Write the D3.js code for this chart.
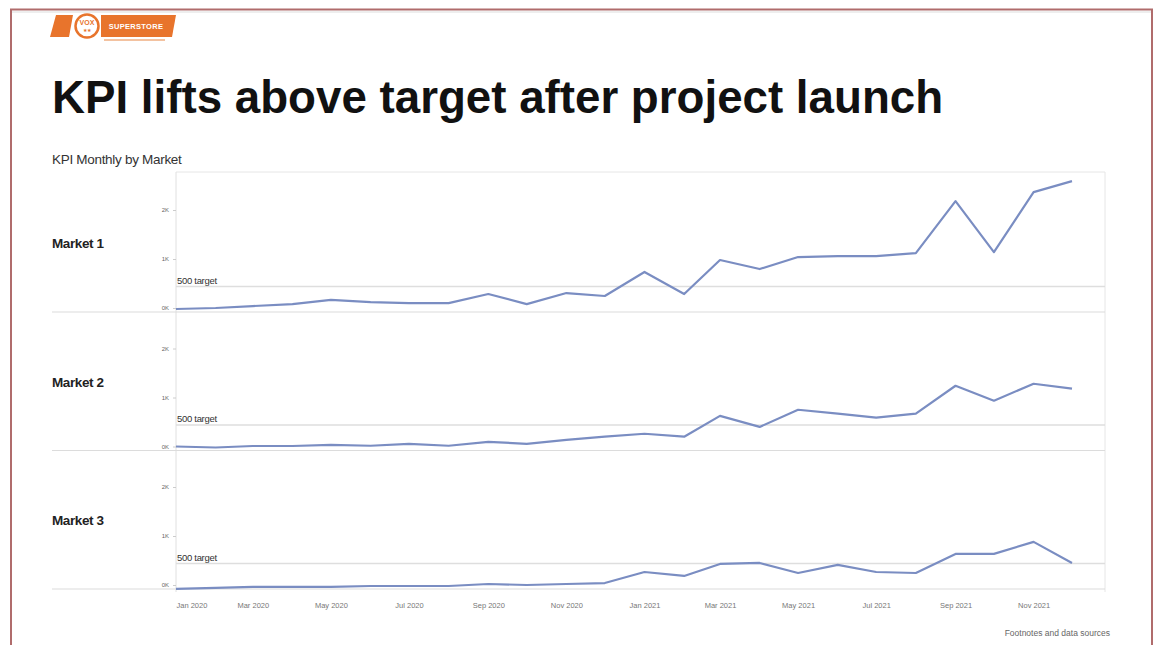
<!DOCTYPE html>
<html><head><meta charset="utf-8">
<script src="https://cdn.jsdelivr.net/npm/d3@7"></script>
<style>
html,body{margin:0;padding:0;background:#fff;}
svg{display:block;font-family:"Liberation Sans",Arial,Helvetica,sans-serif;}
</style></head>
<body>
<svg id="chart" width="1156" height="645"></svg>
<script>
// ---- data ----
const months = ["2020-01","2020-02","2020-03","2020-04","2020-05","2020-06","2020-07","2020-08","2020-09","2020-10","2020-11","2020-12",
                "2021-01","2021-02","2021-03","2021-04","2021-05","2021-06","2021-07","2021-08","2021-09","2021-10","2021-11","2021-12"];
const markets = ["Market 1","Market 2","Market 3"];
const market1 = [-20,0,40,80,165,120,100,100,285,80,305,245,735,285,980,795,1040,1060,1060,1120,2180,1140,2365,2590];
const market2 = [0,-20,10,10,35,15,55,15,95,55,135,200,260,200,625,400,750,670,590,670,1240,935,1280,1180];
const market3 = [-80,-60,-40,-40,-40,-20,-20,-20,20,0,20,40,265,185,430,450,245,410,265,245,635,635,880,450];
const seriesValues = [market1, market2, market3];
const targetValue = 500;
const targetLabel = "500 target";
const yTickValues = [0,1000,2000];
const yTickLabels = ["0K","1K","2K"];
const xTickLabels = ["Jan 2020","Mar 2020","May 2020","Jul 2020","Sep 2020","Nov 2020","Jan 2021","Mar 2021","May 2021","Jul 2021","Sep 2021","Nov 2021"];
const titleText = "KPI lifts above target after project launch";
const subtitleText = "KPI Monthly by Market";
const footText = "Footnotes and data sources";

// ---- layout ----
const svg = d3.select("#chart");
const parse = d3.timeParse("%Y-%m");
const dates = months.map(parse);
const plotLeft = 176, plotRight = 1105;
const x = d3.scaleTime().domain([dates[0], dates[dates.length-1]]).range([176, 1072]);
const rowPitch = 138.5;
const lineColor = "#7a8dc2";

// frame
svg.append("rect").attr("x",11).attr("y",9.5).attr("width",1141).attr("height",660)
  .attr("fill","none").attr("stroke","#b06c6c").attr("stroke-width",2);
svg.append("line").attr("x1",12).attr("x2",1151).attr("y1",12).attr("y2",12).attr("stroke","#eeeeee").attr("stroke-width",2);

// logo
const logo = svg.append("g");
const orange = "#e8742c";
logo.append("path").attr("d","M56,15 L73,15 L69,37 L50,37 Z").attr("fill",orange);
logo.append("circle").attr("cx",87).attr("cy",26).attr("r",11.5).attr("fill","#fff").attr("stroke",orange).attr("stroke-width",2.5);
logo.append("text").attr("x",87).attr("y",25).attr("text-anchor","middle").attr("font-size",7).attr("font-weight","bold").attr("fill",orange).text("VOX");
logo.append("text").attr("x",87).attr("y",32).attr("text-anchor","middle").attr("font-size",5).attr("fill",orange).text("\u2605\u2605");
logo.append("path").attr("d","M101,15 L176,15 L172,37 L101,37 Z").attr("fill",orange);
logo.append("text").attr("x",136).attr("y",29).attr("text-anchor","middle").attr("font-size",7.5).attr("font-weight","bold").attr("fill","#fff").attr("letter-spacing",0.3).text("SUPERSTORE");
logo.append("line").attr("x1",104).attr("x2",165).attr("y1",40).attr("y2",40).attr("stroke","#f3c2a0").attr("stroke-width",2);

// title
svg.append("text").attr("x",52).attr("y",113).attr("font-size",45.7).attr("font-weight","bold").attr("fill","#111").text(titleText);
svg.append("text").attr("x",52).attr("y",164).attr("font-size",13.5).attr("fill","#333").attr("letter-spacing",-0.3).text(subtitleText);

// plot frame lines
svg.append("line").attr("x1",plotLeft).attr("x2",plotRight).attr("y1",172).attr("y2",172).attr("stroke","#e6e6e6");
svg.append("line").attr("x1",plotLeft).attr("x2",plotLeft).attr("y1",172).attr("y2",592).attr("stroke","#e0e0e0");
svg.append("line").attr("x1",plotRight).attr("x2",plotRight).attr("y1",172).attr("y2",592).attr("stroke","#e6e6e6");

markets.forEach((name, r) => {
  const off = r*rowPitch;
  const y = d3.scaleLinear().domain([0,2000]).range([308+off, 210+off]);
  const g = svg.append("g");
  // row separator
  g.append("line").attr("x1",52).attr("x2",plotRight).attr("y1",312+off).attr("y2",312+off).attr("stroke","#dcdcdc").attr("stroke-width",1.2);
  // row label
  g.append("text").attr("x",52).attr("y",248+off).attr("font-size",13.5).attr("font-weight","bold").attr("fill","#222").attr("letter-spacing",-0.4).text(name);
  // y axis
  const ax = g.append("g").attr("transform",`translate(${plotLeft},0)`)
    .call(d3.axisLeft(y).tickValues(yTickValues).tickFormat((d,i)=>yTickLabels[i]).tickSize(3).tickPadding(4));
  ax.select(".domain").remove();
  ax.selectAll(".tick line").attr("stroke","#ccc");
  ax.selectAll(".tick text").attr("font-size",6).attr("fill","#666").attr("font-family","Liberation Sans, Arial, sans-serif");
  // target
  g.append("line").attr("x1",plotLeft).attr("x2",plotRight).attr("y1",y(targetValue)+3).attr("y2",y(targetValue)+3)
    .attr("stroke","#dedede").attr("stroke-width",1.5);
  g.append("text").attr("x",plotLeft+1).attr("y",y(targetValue)).attr("font-size",9.5).attr("fill","#333").attr("letter-spacing",-0.3).text(targetLabel);
  // line
  const line = d3.line().x((d,i)=>x(dates[i])).y(d=>y(d));
  g.append("path").datum(seriesValues[r]).attr("d",line).attr("fill","none").attr("stroke",lineColor).attr("stroke-width",2.2).attr("stroke-linejoin","round");
});

// x axis labels
const xTicks = dates.filter((d,i)=>i%2===0);
const xa = svg.append("g").attr("transform","translate(0,593)")
  .call(d3.axisBottom(x).tickValues(xTicks).tickFormat((d,i)=>xTickLabels[i]).tickSize(0).tickPadding(10));
xa.select(".domain").remove();
xa.selectAll(".tick text").attr("font-size",7.5).attr("fill","#777").attr("font-family","Liberation Sans, Arial, sans-serif")
  .attr("text-anchor",(d,i)=> i===0 ? "start" : "middle");

// footer
svg.append("text").attr("x",1110).attr("y",636).attr("text-anchor","end").attr("font-size",8.5).attr("fill","#666").text(footText);
</script>
</body></html>
